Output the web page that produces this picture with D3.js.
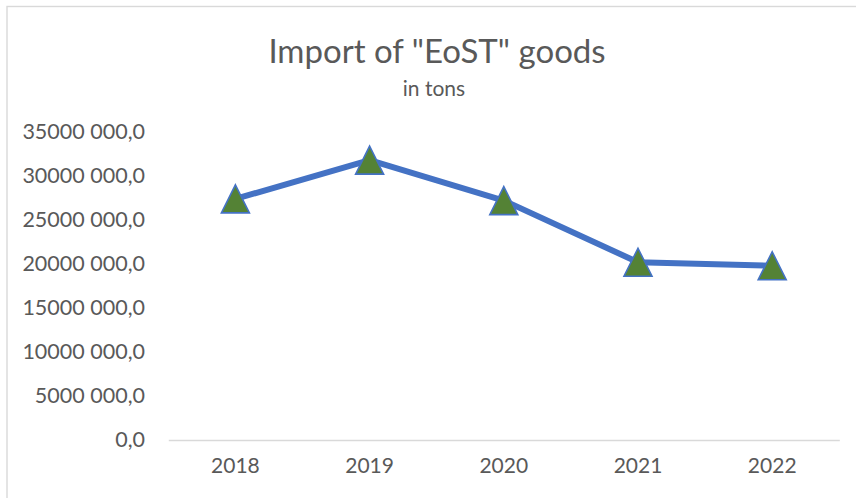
<!DOCTYPE html>
<html>
<head>
<meta charset="utf-8">
<script src="https://cdn.jsdelivr.net/npm/d3@7"></script>
<style>
  html, body { margin: 0; padding: 0; background: #fff; }
  svg { display: block; }
  text { font-family: Lato, "Open Sans", sans-serif; fill: #595959; }
</style>
</head>
<body>
<svg id="chart" width="856" height="498"></svg>
<script>
// Import volumes per year, tons
const years = ["2018", "2019", "2020", "2021", "2022"];
const importTons = [27400000, 31800000, 27200000, 20200000, 19800000];
const yTicks = [0, 5000000, 10000000, 15000000, 20000000, 25000000, 30000000, 35000000];
const titleText = 'Import of "EoST" goods';
const subtitleText = "in tons";

const W = 856, H = 498;
const svg = d3.select("#chart");

// chart area border (extends past the window on right and bottom)
svg.append("rect")
  .attr("x", 7).attr("y", 6.5)
  .attr("width", W + 20).attr("height", H + 20)
  .attr("fill", "#fff")
  .attr("stroke", "#d9d9d9")
  .attr("stroke-width", 1.4);

const plot = { left: 168.3, right: 839.3, top: 132, bottom: 440 };

const x = d3.scaleBand().domain(years).range([plot.left, plot.right]);
const y = d3.scaleLinear().domain([0, 35000000]).range([plot.bottom, plot.top]);

// number format: "30000 000,0"
const fmt = v => {
  if (v === 0) return "0,0";
  const s = String(v);
  return s.slice(0, s.length - 3) + " " + s.slice(-3) + ",0";
};

// title and subtitle
svg.append("text")
  .attr("x", 437).attr("y", 63)
  .attr("text-anchor", "middle")
  .style("font-size", "33px")
  .text(titleText);
svg.append("text")
  .attr("x", 434).attr("y", 96)
  .attr("text-anchor", "middle")
  .style("font-size", "21px")
  .text(subtitleText);

// y axis labels (no axis line, no gridlines)
const yAxis = d3.axisLeft(y).tickValues(yTicks).tickFormat(fmt).tickSize(0).tickPadding(0);
const gy = svg.append("g").attr("transform", `translate(145,0)`).call(yAxis);
gy.select(".domain").remove();
gy.selectAll("text").style("font-size", "21.5px").attr("fill", "#595959")
  .attr("font-family", "Lato");

// x axis
const xAxis = d3.axisBottom(x).tickSize(0).tickPadding(0);
const gx = svg.append("g").attr("transform", `translate(0,${plot.bottom})`).call(xAxis);
gx.select(".domain").attr("stroke", "#d9d9d9").attr("stroke-width", 1.5);
gx.selectAll("text").style("font-size", "21px").attr("fill", "#595959")
  .attr("dy", "1.55em").attr("font-family", "Lato");

const cx = d => x(d) + x.bandwidth() / 2;

// series line
const line = d3.line().x((d, i) => cx(years[i])).y(d => y(d));
svg.append("path")
  .datum(importTons)
  .attr("d", line)
  .attr("fill", "none")
  .attr("stroke", "#4472c4")
  .attr("stroke-width", 6)
  .attr("stroke-linejoin", "round");

// triangle markers
const s = 28;
svg.append("g").selectAll("path")
  .data(importTons)
  .join("path")
  .attr("transform", (d, i) => `translate(${cx(years[i])},${y(d)})`)
  .attr("d", `M0,${-s / 2}L${s / 2},${s / 2}L${-s / 2},${s / 2}Z`)
  .attr("fill", "#548235")
  .attr("stroke", "#4472c4")
  .attr("stroke-width", 1.6)
  .attr("stroke-linejoin", "miter");
</script>
</body>
</html>
